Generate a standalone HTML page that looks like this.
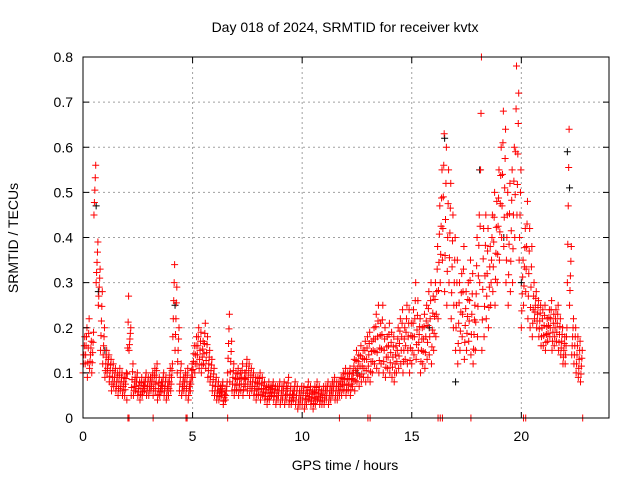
<!DOCTYPE html>
<html><head><meta charset="utf-8"><style>
body{margin:0;background:#fff;}
svg{display:block;font-family:"Liberation Sans",sans-serif;}
</style></head><body>
<svg id="chart" width="640" height="480" viewBox="0 0 640 480" xmlns="http://www.w3.org/2000/svg">
<rect width="640" height="480" fill="#fff"/>
<text x="345" y="32" font-size="14" text-anchor="middle">Day 018 of 2024, SRMTID for receiver kvtx</text>
<text x="345" y="470" font-size="14" text-anchor="middle">GPS time / hours</text>
<text transform="translate(18,238) rotate(-90)" font-size="14" text-anchor="middle">SRMTID / TECUs</text>
<g id="grid"></g>
<g id="marks"></g>
<g id="axes"></g>
</svg>
<script>
const xTicks=[0,5,10,15,20];
const yTicks=[0,0.1,0.2,0.3,0.4,0.5,0.6,0.7,0.8];
const yTickLabels=["0","0.1","0.2","0.3","0.4","0.5","0.6","0.7","0.8"];
const stepHours=0.1;
const lowVals=[0.10,0.12,0.09,0.11,0.10,0.45,0.30,0.25,0.15,0.12,
0.09,0.10,0.08,0.06,0.07,0.06,0.05,0.06,0.05,0.05,
0.04,0.15,0.05,0.05,0.06,0.05,0.04,0.05,0.06,0.05,
0.05,0.06,0.05,0.06,0.04,0.05,0.06,0.05,0.04,0.05,
0.06,0.18,0.15,0.10,0.06,0.05,0.06,0.05,0.04,0.06,
0.09,0.10,0.12,0.11,0.10,0.12,0.11,0.09,0.08,0.06,
0.05,0.04,0.04,0.05,0.03,0.04,0.10,0.08,0.06,0.05,
0.06,0.05,0.06,0.05,0.07,0.06,0.05,0.06,0.05,0.04,
0.05,0.04,0.05,0.04,0.03,0.04,0.05,0.04,0.03,0.04,
0.03,0.04,0.03,0.04,0.03,0.03,0.04,0.03,0.02,0.03,
0.03,0.02,0.03,0.04,0.03,0.02,0.03,0.04,0.03,0.03,
0.03,0.04,0.03,0.04,0.05,0.04,0.04,0.05,0.05,0.06,
0.05,0.06,0.05,0.07,0.06,0.08,0.07,0.08,0.09,0.08,
0.09,0.08,0.10,0.12,0.11,0.10,0.12,0.10,0.09,0.11,
0.10,0.09,0.08,0.10,0.11,0.12,0.10,0.13,0.12,0.10,
0.12,0.14,0.13,0.15,0.10,0.12,0.11,0.13,0.14,0.12,
0.15,0.18,0.22,0.30,0.35,0.28,0.25,0.30,0.22,0.20,
0.15,0.12,0.15,0.18,0.13,0.15,0.17,0.14,0.12,0.15,
0.18,0.30,0.15,0.18,0.22,0.20,0.25,0.28,0.25,0.30,
0.35,0.40,0.38,0.30,0.25,0.28,0.30,0.40,0.45,0.35,
0.20,0.25,0.28,0.22,0.20,0.18,0.22,0.20,0.18,0.16,
0.16,0.15,0.17,0.18,0.15,0.16,0.17,0.15,0.14,0.12,
0.12,0.30,0.25,0.14,0.12,0.10,0.09,0.08];
const highVals=[0.18,0.20,0.22,0.17,0.19,0.56,0.39,0.33,0.28,0.20,
0.15,0.14,0.13,0.12,0.11,0.10,0.11,0.10,0.09,0.10,
0.27,0.20,0.12,0.09,0.10,0.08,0.09,0.08,0.10,0.09,
0.09,0.10,0.11,0.12,0.09,0.08,0.10,0.09,0.08,0.11,
0.12,0.34,0.29,0.20,0.12,0.09,0.10,0.11,0.08,0.12,
0.16,0.18,0.20,0.19,0.17,0.21,0.18,0.15,0.13,0.11,
0.09,0.08,0.07,0.08,0.06,0.08,0.23,0.17,0.12,0.10,
0.11,0.10,0.12,0.10,0.13,0.12,0.11,0.10,0.09,0.09,
0.10,0.09,0.08,0.07,0.08,0.07,0.08,0.07,0.07,0.08,
0.07,0.08,0.07,0.09,0.07,0.06,0.08,0.07,0.06,0.07,
0.07,0.06,0.08,0.07,0.06,0.07,0.08,0.07,0.06,0.07,
0.07,0.08,0.07,0.08,0.09,0.08,0.08,0.09,0.10,0.11,
0.10,0.11,0.10,0.13,0.15,0.14,0.16,0.15,0.17,0.18,
0.19,0.17,0.20,0.23,0.25,0.21,0.25,0.20,0.18,0.21,
0.19,0.18,0.16,0.20,0.22,0.24,0.20,0.25,0.24,0.21,
0.24,0.30,0.26,0.22,0.20,0.23,0.25,0.28,0.30,0.27,
0.30,0.38,0.47,0.55,0.63,0.60,0.55,0.52,0.45,0.40,
0.35,0.30,0.32,0.38,0.28,0.30,0.35,0.32,0.25,0.40,
0.45,0.80,0.42,0.45,0.42,0.38,0.45,0.50,0.48,0.55,
0.60,0.68,0.64,0.50,0.52,0.55,0.60,0.78,0.72,0.55,
0.35,0.42,0.48,0.42,0.38,0.30,0.28,0.26,0.25,0.24,
0.25,0.22,0.24,0.26,0.23,0.24,0.25,0.22,0.20,0.18,
0.20,0.64,0.38,0.22,0.20,0.18,0.17,0.15];
const zeroTimes=[2.05,2.1,3.2,4.7,4.75,6.6,11.7,13.0,13.1,16.2,16.3,16.4,17.7,20.1,20.2,22.8];
const blackTimes=[0.6,0.7,1.0,4.2,12.5,15.8,16.5,17.0,18.1,19.2,20.0,22.1,22.2];
const blackVals=[0.47,0.28,0.15,0.25,0.10,0.20,0.62,0.08,0.55,0.40,0.30,0.59,0.51];

const L=83,R=609,T=57,B=418,XMAX=24,YMAX=0.8;
const xs=v=>L+(R-L)*v/XMAX, ys=v=>B-(B-T)*v/YMAX;
const NS="http://www.w3.org/2000/svg";
function mk(tag,attrs,parent){const e=document.createElementNS(NS,tag);for(const k in attrs)e.setAttribute(k,attrs[k]);parent.appendChild(e);return e;}
const grid=document.getElementById('grid'),axes=document.getElementById('axes'),marks=document.getElementById('marks');
xTicks.forEach(t=>{
 if(t>0){const g=mk('line',{x1:xs(t),x2:xs(t),y1:T,y2:B,stroke:'#a0a0a0','stroke-dasharray':'2,3'},grid);
 
 }
 const tk=mk('path',{d:`M${xs(t)},${B}v-6M${xs(t)},${T}v6`,stroke:'#000'},axes);
 
 
 const tx=mk('text',{x:xs(t),y:B+23,'font-size':14,'text-anchor':'middle'},axes);tx.textContent=t;
 
 
});
yTicks.forEach((t,i)=>{
 if(t>0&&t<YMAX){const g=mk('line',{x1:L,x2:R,y1:ys(t),y2:ys(t),stroke:'#a0a0a0','stroke-dasharray':'2,3'},grid);
 
 }
 const tk=mk('path',{d:`M${L},${ys(t)}h6M${R},${ys(t)}h-6`,stroke:'#000'},axes);
 
 
 const tx=mk('text',{x:L-10,y:ys(t)+5,'font-size':14,'text-anchor':'end'},axes);tx.textContent=yTickLabels[i];
 
 
});
const frame=mk('rect',{x:L,y:T,width:R-L,height:B-T,fill:'none',stroke:'#000'},axes);


function plus(x,y,color,name){
 const p=mk('path',{d:`M${x-3.5},${y}h7M${x},${y-3.5}v7`,stroke:color,'stroke-width':1},marks);
 
 
}
blackTimes.forEach((t,i)=>plus(xs(t),ys(blackVals[i]),'#000','black-point'));
lowVals.forEach((lo,i)=>{
 const t=i*stepHours, hi=highVals[i];
 const n=5;
 for(let k=0;k<n;k++){
  const v=lo+(hi-lo)*k/(n-1);
  plus(xs(t+stepHours*k/n),ys(v),'#ff0000','red-point');
 }
});
zeroTimes.forEach(t=>plus(xs(t),ys(0),'#ff0000','zero-point'));
</script>
</body></html>
